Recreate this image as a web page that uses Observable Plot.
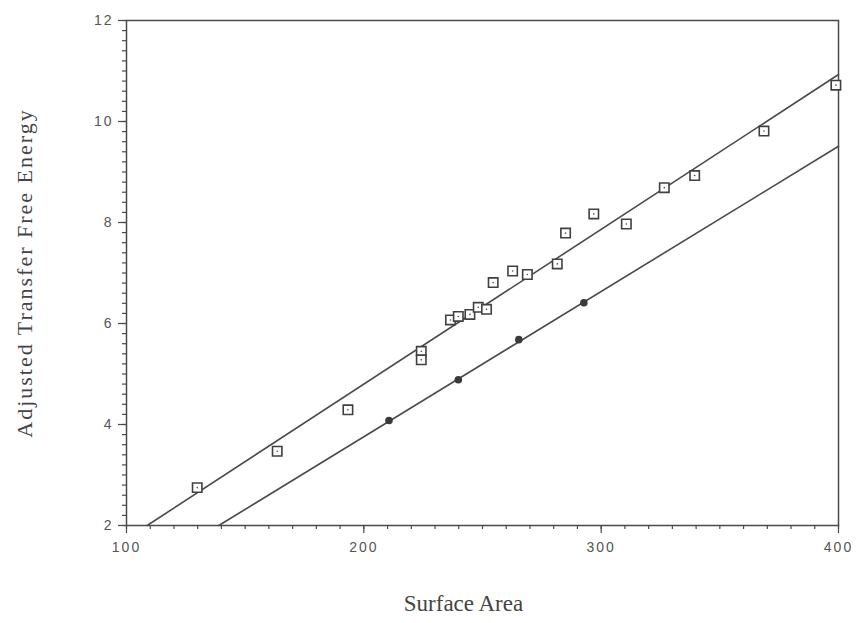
<!DOCTYPE html>
<html>
<head>
<meta charset="utf-8">
<script src="https://cdn.jsdelivr.net/npm/d3@7"></script>
<script src="https://cdn.jsdelivr.net/npm/@observablehq/plot@0.6"></script>
<style>
  html, body { margin: 0; padding: 0; background: #fff; }
  #chart svg { display: block; }
  #chart svg g[aria-label="x-axis tick label"] text,
  #chart svg g[aria-label="y-axis tick label"] text { letter-spacing: 2px; }
</style>
</head>
<body>
<div id="chart"></div>
<script>
// Open squares (series 1)
const squareArea = [129.8, 163.5, 193.3, 224.2, 224.2, 236.5, 239.8, 244.7, 248.2, 251.7, 254.5, 262.7, 268.9, 281.5, 285.0, 296.9, 310.6, 326.6, 339.4, 368.6, 398.9];
const squareEnergy = [2.75, 3.47, 4.29, 5.45, 5.28, 6.07, 6.14, 6.18, 6.32, 6.28, 6.81, 7.04, 6.97, 7.18, 7.79, 8.17, 7.97, 8.69, 8.93, 9.81, 10.72];
// Filled dots (series 2)
const dotArea = [210.6, 239.8, 265.3, 292.7];
const dotEnergy = [4.08, 4.885, 5.68, 6.41];
// Fitted lines (end points)
const upperFitArea = [108.7, 400];
const upperFitEnergy = [2, 10.93];
const lowerFitArea = [138.9, 400];
const lowerFitEnergy = [2, 9.51];
// Axis ticks
const xMajorTicks = [100, 200, 300, 400];
const xMinorTicks = d3.range(100, 401, 10);
const yMajorTicks = [2, 4, 6, 8, 10, 12];
const yMinorTicks = d3.range(0, 51).map(i => 2 + i * 0.2);
const xTitle = "Surface Area";
const yTitle = "Adjusted Transfer Free Energy";

const squares = squareArea.map((x, i) => ({x, y: squareEnergy[i]}));
const dots = dotArea.map((x, i) => ({x, y: dotEnergy[i]}));
const upper = upperFitArea.map((x, i) => ({x, y: upperFitEnergy[i]}));
const lower = lowerFitArea.map((x, i) => ({x, y: lowerFitEnergy[i]}));

const ink = "#4a4a4a";
const sans = "'Liberation Sans', Arial, sans-serif";
const serif = "'Liberation Serif', 'Times New Roman', serif";

const chart = Plot.plot({
  width: 856,
  height: 623,
  marginLeft: 126,
  marginRight: 18,
  marginTop: 20,
  marginBottom: 98,
  style: {fontFamily: sans, fontSize: "14px", color: ink, background: "#fff"},
  x: {domain: [100, 400]},
  y: {domain: [2, 12]},
  marks: [
    Plot.frame({stroke: ink, strokeWidth: 1.5}),
    Plot.axisX({ticks: xMinorTicks, tickSize: 4, fill: "none", stroke: ink, strokeWidth: 1.2, label: null}),
    Plot.axisX({ticks: xMajorTicks, tickSize: 8, tickPadding: 9, stroke: ink, strokeWidth: 1.2, fill: "#555", fontSize: 14, label: null}),
    Plot.axisY({ticks: yMinorTicks, tickSize: 4, fill: "none", stroke: ink, strokeWidth: 1.2, label: null}),
    Plot.axisY({ticks: yMajorTicks, tickSize: 8, tickPadding: 5, stroke: ink, strokeWidth: 1.2, fill: "#555", fontSize: 14, label: null}),
    Plot.line(upper, {x: "x", y: "y", stroke: ink, strokeWidth: 1.6}),
    Plot.line(lower, {x: "x", y: "y", stroke: ink, strokeWidth: 1.6}),
    Plot.dot(squares, {x: "x", y: "y", symbol: "square", r: 5.3, stroke: "#404040", strokeWidth: 1.6, fill: "#fff"}),
    Plot.dot(squares, {x: "x", y: "y", r: 0.8, fill: ink, stroke: "none"}),
    Plot.dot(dots, {x: "x", y: "y", r: 3.8, fill: "#3a3a3a", stroke: "none"}),
    Plot.text([yTitle], {frameAnchor: "left", textAnchor: "middle", dx: -102, rotate: -90, fontFamily: serif, fontSize: 22, fill: "#444"}),
    Plot.text([xTitle], {frameAnchor: "bottom", textAnchor: "middle", dx: -19, dy: 85, fontFamily: serif, fontSize: 23, fill: "#444"})
  ]
});
d3.select(chart).selectAll("text")
  .filter(function() { return this.textContent === yTitle; })
  .style("letter-spacing", "2px");
document.getElementById("chart").append(chart);
</script>
</body>
</html>
